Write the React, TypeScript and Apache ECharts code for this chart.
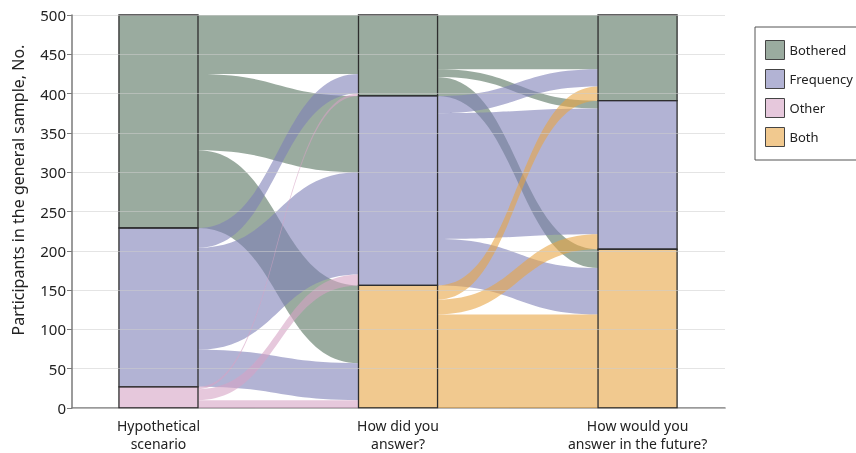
import React, { useEffect, useRef } from 'react';
import * as echarts from 'echarts';

// Categories (top-to-bottom stacking order)
const categories = ['Bothered', 'Frequency', 'Other', 'Both'];
// Axis (stage) labels
const axisLabels = ['Hypothetical\nscenario', 'How did you\nanswer?', 'How would you\nanswer in the future?'];
// Y tick values
const yTicks = [0, 50, 100, 150, 200, 250, 300, 350, 400, 450, 500];

// Flows: [from category index, to category index, participants]
const flowsScenarioToAnswer = [
  [0, 0, 75], [0, 1, 97], [0, 3, 99],
  [1, 0, 25], [1, 1, 130], [1, 3, 47],
  [2, 0, 3], [2, 1, 14], [2, 3, 10],
];
const flowsAnswerToFuture = [
  [0, 0, 69], [0, 1, 10], [0, 3, 24],
  [1, 0, 22], [1, 1, 160], [1, 3, 59],
  [3, 0, 18], [3, 1, 19], [3, 3, 119],
];

const legendColors = ['#9aab9f', '#b2b3d4', '#e6c8dc', '#f1c98f'];
const fillColors = ['rgba(87,115,95,0.6)', 'rgba(127,128,183,0.6)', 'rgba(213,163,197,0.6)', 'rgba(232,165,68,0.6)'];

const FONT = 'Noto Sans';
const HALF = 0.165;
const X_MIN = 0.639;
const X_MAX = 3.365;

export default function App() {
  const ref = useRef<HTMLDivElement>(null);

  useEffect(() => {
    const chart = echarts.init(ref.current!, null, { renderer: 'svg' });
    const segments = [flowsScenarioToAnswer, flowsAnswerToFuture];
    const nCat = categories.length;

    const strataSizes: number[][] = [];
    for (let a = 0; a < axisLabels.length; a++) {
      const sizes = new Array(nCat).fill(0);
      if (a < segments.length) segments[a].forEach((f) => (sizes[f[0]] += f[2]));
      else segments[a - 1].forEach((f) => (sizes[f[1]] += f[2]));
      strataSizes.push(sizes);
    }
    const total = strataSizes[0].reduce((s, v) => s + v, 0);
    const strataTops = strataSizes.map((sizes) => {
      let c = total;
      return sizes.map((v) => {
        const t = c;
        c -= v;
        return t;
      });
    });

    const flowData: any[] = [];
    segments.forEach((flows, s) => {
      const lc = strataTops[s].slice();
      const rc = strataTops[s + 1].slice();
      const lt = new Map<any, number>();
      const rt = new Map<any, number>();
      [...flows].sort((a, b) => a[0] - b[0] || a[1] - b[1]).forEach((f) => {
        lt.set(f, lc[f[0]]);
        lc[f[0]] -= f[2];
      });
      [...flows].sort((a, b) => a[1] - b[1] || a[0] - b[0]).forEach((f) => {
        rt.set(f, rc[f[1]]);
        rc[f[1]] -= f[2];
      });
      flows.forEach((f) => flowData.push([s, f[0], f[1], f[2], lt.get(f), rt.get(f)]));
    });

    const strataData: any[] = [];
    strataSizes.forEach((sizes, a) =>
      sizes.forEach((v, k) => {
        if (v > 0) strataData.push([a, k, strataTops[a][k], v]);
      })
    );

    const option: any = {
      animation: false,
      grid: { left: 72, right: 131, top: 15, bottom: 45 },
      xAxis: {
        type: 'value',
        min: X_MIN,
        max: X_MAX,
        splitLine: { show: false },
        axisLine: { show: true, lineStyle: { color: '#7a7a7a', width: 1.5 } },
        axisTick: { show: false },
        axisLabel: {
          customValues: [1, 2, 3],
          formatter: (v: number) => axisLabels[Math.round(v) - 1] || '',
          fontFamily: FONT,
          fontSize: 14,
          lineHeight: 18,
          color: '#222',
          margin: 8,
        },
      },
      yAxis: {
        type: 'value',
        min: 0,
        max: 500,
        interval: 50,
        z: 4,
        axisLine: { show: true, lineStyle: { color: '#7a7a7a', width: 1.5 } },
        axisTick: { show: true, length: 5, lineStyle: { color: '#7a7a7a' } },
        axisLabel: {
          fontFamily: FONT,
          fontSize: 15,
          color: '#222',
          margin: 6,
          formatter: (v: number) => (yTicks.includes(v) ? String(v) : ''),
        },
        splitLine: { show: true, lineStyle: { color: 'rgba(205,205,205,0.55)', width: 1.2 } },
      },
      legend: {
        orient: 'vertical',
        left: 755,
        top: 27,
        padding: [13, 20, 13, 10],
        borderColor: '#555',
        borderWidth: 1,
        itemWidth: 19,
        itemHeight: 19,
        itemGap: 9,
        textStyle: { fontFamily: FONT, fontSize: 13, color: '#222', lineHeight: 19 },
        data: categories.map((c, i) => ({
          name: c,
          icon: 'rect',
          itemStyle: { color: legendColors[i], borderColor: '#444', borderWidth: 1 },
        })),
      },
      graphic: [
        {
          type: 'text',
          x: 18,
          y: 190,
          rotation: Math.PI / 2,
          style: {
            text: 'Participants in the general sample, No.',
            font: `16px "${FONT}"`,
            fill: '#222',
            textAlign: 'center',
            textVerticalAlign: 'middle',
          },
        },
      ],
      series: [
        ...categories.map((c, i) => ({
          type: 'line',
          name: c,
          data: [],
          itemStyle: { color: legendColors[i] },
        })),
        {
          type: 'custom',
          name: 'flows',
          z: 2,
          data: flowData,
          renderItem: (params: any, api: any) => {
            const s = api.value(0);
            const from = api.value(1);
            const v = api.value(3);
            const ltop = api.value(4);
            const rtop = api.value(5);
            const xL = s + 1 + HALF;
            const xR = s + 2 - HALF;
            const p1 = api.coord([xL, ltop]);
            const p2 = api.coord([xL, ltop - v]);
            const p3 = api.coord([xR, rtop]);
            const p4 = api.coord([xR, rtop - v]);
            const mx = (p1[0] + p3[0]) / 2;
            const d =
              `M${p1[0]},${p1[1]} C${mx},${p1[1]} ${mx},${p3[1]} ${p3[0]},${p3[1]} ` +
              `L${p4[0]},${p4[1]} C${mx},${p4[1]} ${mx},${p2[1]} ${p2[0]},${p2[1]} Z`;
            return {
              type: 'path',
              shape: { pathData: d },
              style: { fill: fillColors[from], stroke: null },
            };
          },
        },
        {
          type: 'custom',
          name: 'strata',
          z: 3,
          data: strataData,
          renderItem: (params: any, api: any) => {
            const a = api.value(0);
            const k = api.value(1);
            const top = api.value(2);
            const size = api.value(3);
            const p0 = api.coord([a + 1 - HALF, top]);
            const p1 = api.coord([a + 1 + HALF, top - size]);
            return {
              type: 'rect',
              shape: { x: p0[0], y: p0[1], width: p1[0] - p0[0], height: p1[1] - p0[1] },
              style: { fill: fillColors[k], stroke: '#2e2e2e', lineWidth: 1.3 },
            };
          },
        },
      ],
    };
    chart.setOption(option);
    return () => chart.dispose();
  }, []);

  return <div ref={ref} style={{ position: 'fixed', left: 0, top: 0, width: 856, height: 453 }} />;
}
